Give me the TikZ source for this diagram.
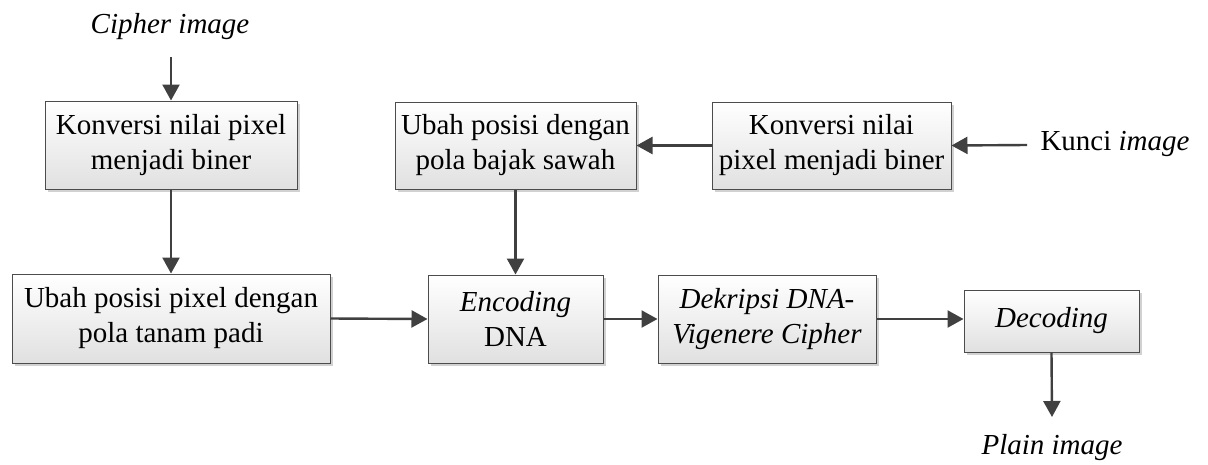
\documentclass[tikz,border=0pt]{standalone}
\usepackage{fontspec}
\setmainfont{Liberation Serif}
\newfontfamily\tms{Liberation Serif}
\usetikzlibrary{arrows.meta,shadows}
\begin{document}
\begin{tikzpicture}[x=1pt,y=-1pt,
  box/.style={draw=black!70,line width=1pt,top color=white,bottom color=black!12,
    align=center,inner sep=0pt,font=\tms\fontsize{29}{35}\selectfont,
    drop shadow={shadow xshift=3pt,shadow yshift=-3pt,fill=black!30,opacity=0.6}},
  lbl/.style={font=\tms\fontsize{29}{34}\selectfont,inner sep=0pt},
  arr/.style={draw=black!75,line width=2.4pt,-{Triangle[length=16pt,width=17pt]}}]
\useasboundingbox (0,0) rectangle (1208,464);
\node[box,minimum width=252pt,minimum height=88pt] (b1) at (171,145) {Konversi nilai pixel\\menjadi biner};
\node[box,minimum width=318pt,minimum height=89pt] (b2) at (171,318.5) {Ubah posisi pixel dengan\\pola tanam padi};
\node[box,minimum width=241pt,minimum height=87pt] (b3) at (515.5,145.5) {Ubah posisi dengan\\pola bajak sawah};
\node[box,minimum width=239pt,minimum height=87pt] (b4) at (831.5,145.5) {Konversi nilai\\pixel menjadi biner};
\node[box,minimum width=175pt,minimum height=88pt] (b5) at (515.5,319) {\textit{Encoding}\\DNA};
\node[box,minimum width=218pt,minimum height=88pt] (b6) at (767,319) {\textit{Dekripsi DNA-}\\\textit{Vigenere Cipher}};
\node[box,minimum width=175pt,minimum height=62pt] (b7) at (1051.5,321) {\textit{Decoding}};
\node[lbl] (cipher) at (170,27) {\textit{Cipher image}};
\node[lbl] (kunci) at (1115,144) {Kunci \textit{image}};
\node[lbl] (plain) at (1052,448) {\textit{Plain image}};
\coordinate (cs) at (171,57);
\coordinate (ks) at (1027,145);
\coordinate (pe) at (1052,417);
\draw[arr] (cs) -- (b1.north);
\draw[arr] (b1.south) -- (b2.north);
\draw[arr] (ks) -- (b4.east);
\draw[arr] (b4.west) -- (b3.east);
\draw[arr] (b3.south) -- (b5.north);
\draw[arr] (b2.east) -- (b5.west);
\draw[arr] (b5.east) -- (b6.west);
\draw[arr] (b6.east) -- (b6.east -| b7.west);
\draw[arr] (b7.south) -- (pe);
\end{tikzpicture}
\end{document}
